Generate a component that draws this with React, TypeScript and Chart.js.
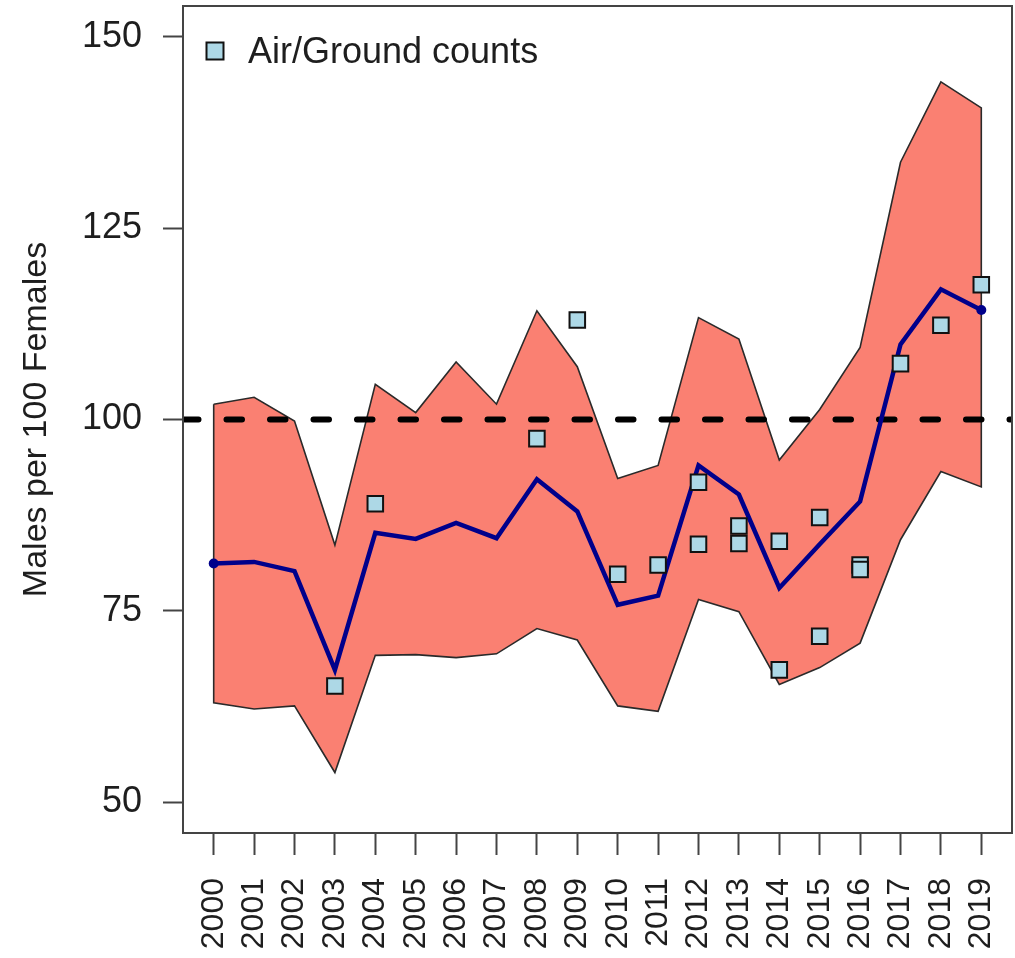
import React, { useEffect, useRef } from 'react';
import { Chart, registerables } from 'chart.js';

Chart.register(...registerables);

// ---- data ----
const YEARS = [2000, 2001, 2002, 2003, 2004, 2005, 2006, 2007, 2008, 2009, 2010, 2011, 2012, 2013, 2014, 2015, 2016, 2017, 2018, 2019];
const UPPER = [102.0, 102.9, 99.8, 83.6, 104.6, 100.9, 107.5, 102.0, 114.2, 106.9, 92.3, 94.0, 113.3, 110.5, 94.7, 101.3, 109.4, 133.6, 144.1, 140.7];
const LOWER = [63.0, 62.2, 62.6, 53.9, 69.2, 69.3, 68.9, 69.4, 72.7, 71.2, 62.6, 61.9, 76.5, 74.9, 65.4, 67.6, 70.8, 84.3, 93.2, 91.2];
const MEAN = [81.2, 81.4, 80.2, 67.3, 85.2, 84.4, 86.5, 84.5, 92.2, 88.0, 75.8, 77.0, 94.0, 90.2, 78.0, 83.7, 89.3, 109.8, 117.0, 114.3];

const COUNT_YEARS = [2003, 2004, 2008, 2009, 2010, 2011, 2012, 2012, 2013, 2013, 2014, 2014, 2015, 2015, 2016, 2016, 2017, 2018, 2019];
const COUNT_VALUES = [65.2, 89.0, 97.5, 113.0, 79.8, 81.0, 91.8, 83.7, 86.1, 83.8, 84.1, 67.3, 87.2, 71.7, 81.0, 80.4, 107.3, 112.3, 117.6];

const Y_TICKS = [50, 75, 100, 125, 150];
const REFERENCE_LEVEL = 100;
const X_MIN = 1999.24;
const X_MAX = 2019.76;
const Y_MIN = 46;
const Y_MAX = 154;

const Y_TITLE = 'Males per 100 Females';
const LEGEND_LABEL = 'Air/Ground counts';

// ---- styles ----
const FONT = '"Liberation Sans", Arial, Helvetica, sans-serif';
const TEXT_COLOR = '#1e1e1e';
const BAND_FILL = '#FA8072';
const BAND_BORDER = '#2a2a2a';
const MEAN_COLOR = '#00008B';
const COUNT_FILL = '#ADD8E6';
const COUNT_BORDER = '#111';
const AXIS_COLOR = '#444';

const zeroPadding = (s: any) => {
  s.paddingTop = 0;
  s.paddingBottom = 0;
  s.paddingLeft = 0;
  s.paddingRight = 0;
};

const boxPlugin = {
  id: 'plotBox',
  afterDraw(chart: any) {
    const { ctx, chartArea } = chart;
    ctx.save();
    ctx.strokeStyle = AXIS_COLOR;
    ctx.lineWidth = 2;
    ctx.strokeRect(chartArea.left, chartArea.top, chartArea.right - chartArea.left, chartArea.bottom - chartArea.top);
    ctx.restore();
  },
};

const insetLegendPlugin = {
  id: 'insetLegend',
  afterDraw(chart: any) {
    const { ctx, chartArea } = chart;
    const cx = chartArea.left + 32;
    const cy = chartArea.top + 45;
    const side = 17;
    ctx.save();
    ctx.fillStyle = COUNT_FILL;
    ctx.strokeStyle = COUNT_BORDER;
    ctx.lineWidth = 2;
    ctx.fillRect(cx - side / 2, cy - side / 2, side, side);
    ctx.strokeRect(cx - side / 2, cy - side / 2, side, side);
    ctx.fillStyle = TEXT_COLOR;
    ctx.font = `36px ${FONT}`;
    ctx.textAlign = 'left';
    ctx.textBaseline = 'alphabetic';
    ctx.fillText(LEGEND_LABEL, chartArea.left + 65, chartArea.top + 57);
    ctx.restore();
  },
};

export default function App() {
  const canvasRef = useRef<HTMLCanvasElement>(null);

  useEffect(() => {
    document.body.style.margin = '0';
    if (!canvasRef.current) return;

    const bandData = [
      ...YEARS.map((x, i) => ({ x, y: UPPER[i] })),
      ...YEARS.map((x, i) => ({ x, y: LOWER[i] })).reverse(),
    ];
    bandData.push({ x: YEARS[0], y: UPPER[0] });

    const chart = new Chart(canvasRef.current, {
      type: 'line',
      data: {
        datasets: [
          {
            label: LEGEND_LABEL,
            data: COUNT_YEARS.map((x, i) => ({ x, y: COUNT_VALUES[i] })),
            showLine: false,
            pointStyle: 'rect',
            pointRadius: 11,
            pointHoverRadius: 11,
            pointBackgroundColor: COUNT_FILL,
            pointBorderColor: COUNT_BORDER,
            pointBorderWidth: 2,
          },
          {
            label: 'Mean',
            data: YEARS.map((x, i) => ({ x, y: MEAN[i] })),
            borderColor: MEAN_COLOR,
            borderWidth: 4.5,
            tension: 0,
            fill: false,
            pointRadius: YEARS.map((_, i) => (i === 0 || i === YEARS.length - 1 ? 5 : 0)),
            pointBackgroundColor: MEAN_COLOR,
            pointBorderWidth: 0,
          },
          {
            label: 'Parity',
            data: [
              { x: X_MIN, y: REFERENCE_LEVEL },
              { x: X_MAX, y: REFERENCE_LEVEL },
            ],
            borderColor: '#000',
            borderWidth: 6,
            borderDash: [15.5, 28],
            borderCapStyle: 'round',
            pointRadius: 0,
            fill: false,
          },
          {
            label: 'Interval',
            data: bandData,
            borderColor: BAND_BORDER,
            borderWidth: 1.6,
            backgroundColor: BAND_FILL,
            fill: 'shape',
            tension: 0,
            pointRadius: 0,
          },
        ] as any,
      },
      options: {
        responsive: true,
        maintainAspectRatio: false,
        animation: false,
        layout: { autoPadding: false, padding: { top: 6, right: 3, left: 0, bottom: 0 } },
        plugins: {
          legend: { display: false },
          tooltip: { enabled: false },
        },
        scales: {
          x: {
            type: 'linear',
            min: X_MIN,
            max: X_MAX,
            afterBuildTicks: (s: any) => {
              s.ticks = YEARS.map((v) => ({ value: v }));
            },
            afterFit: (s: any) => {
              s.height = 125;
              zeroPadding(s);
            },
            ticks: {
              autoSkip: false,
              minRotation: 90,
              maxRotation: 90,
              padding: 23,
              color: TEXT_COLOR,
              font: { family: FONT, size: 32 },
              callback: (v: any) => String(v),
            },
            grid: {
              display: true,
              drawOnChartArea: false,
              drawTicks: true,
              tickLength: 22,
              tickColor: AXIS_COLOR,
              tickWidth: 2,
            },
            border: { display: false },
          },
          y: {
            type: 'linear',
            min: Y_MIN,
            max: Y_MAX,
            afterBuildTicks: (s: any) => {
              s.ticks = Y_TICKS.map((v) => ({ value: v }));
            },
            afterFit: (s: any) => {
              s.width = 183;
              zeroPadding(s);
            },
            ticks: {
              padding: 21,
              color: TEXT_COLOR,
              font: { family: FONT, size: 36 },
              callback: (v: any) => String(v),
            },
            grid: {
              display: true,
              drawOnChartArea: false,
              drawTicks: true,
              tickLength: 20,
              tickColor: AXIS_COLOR,
              tickWidth: 2,
            },
            border: { display: false },
            title: {
              display: true,
              text: Y_TITLE,
              color: TEXT_COLOR,
              font: { family: FONT, size: 34 },
              padding: { top: 16, bottom: 0 },
            },
          },
        },
      } as any,
      plugins: [boxPlugin, insetLegendPlugin],
    });

    return () => chart.destroy();
  }, []);

  return (
    <div style={{ position: 'relative', width: 1015, height: 958 }}>
      <canvas ref={canvasRef} />
    </div>
  );
}
